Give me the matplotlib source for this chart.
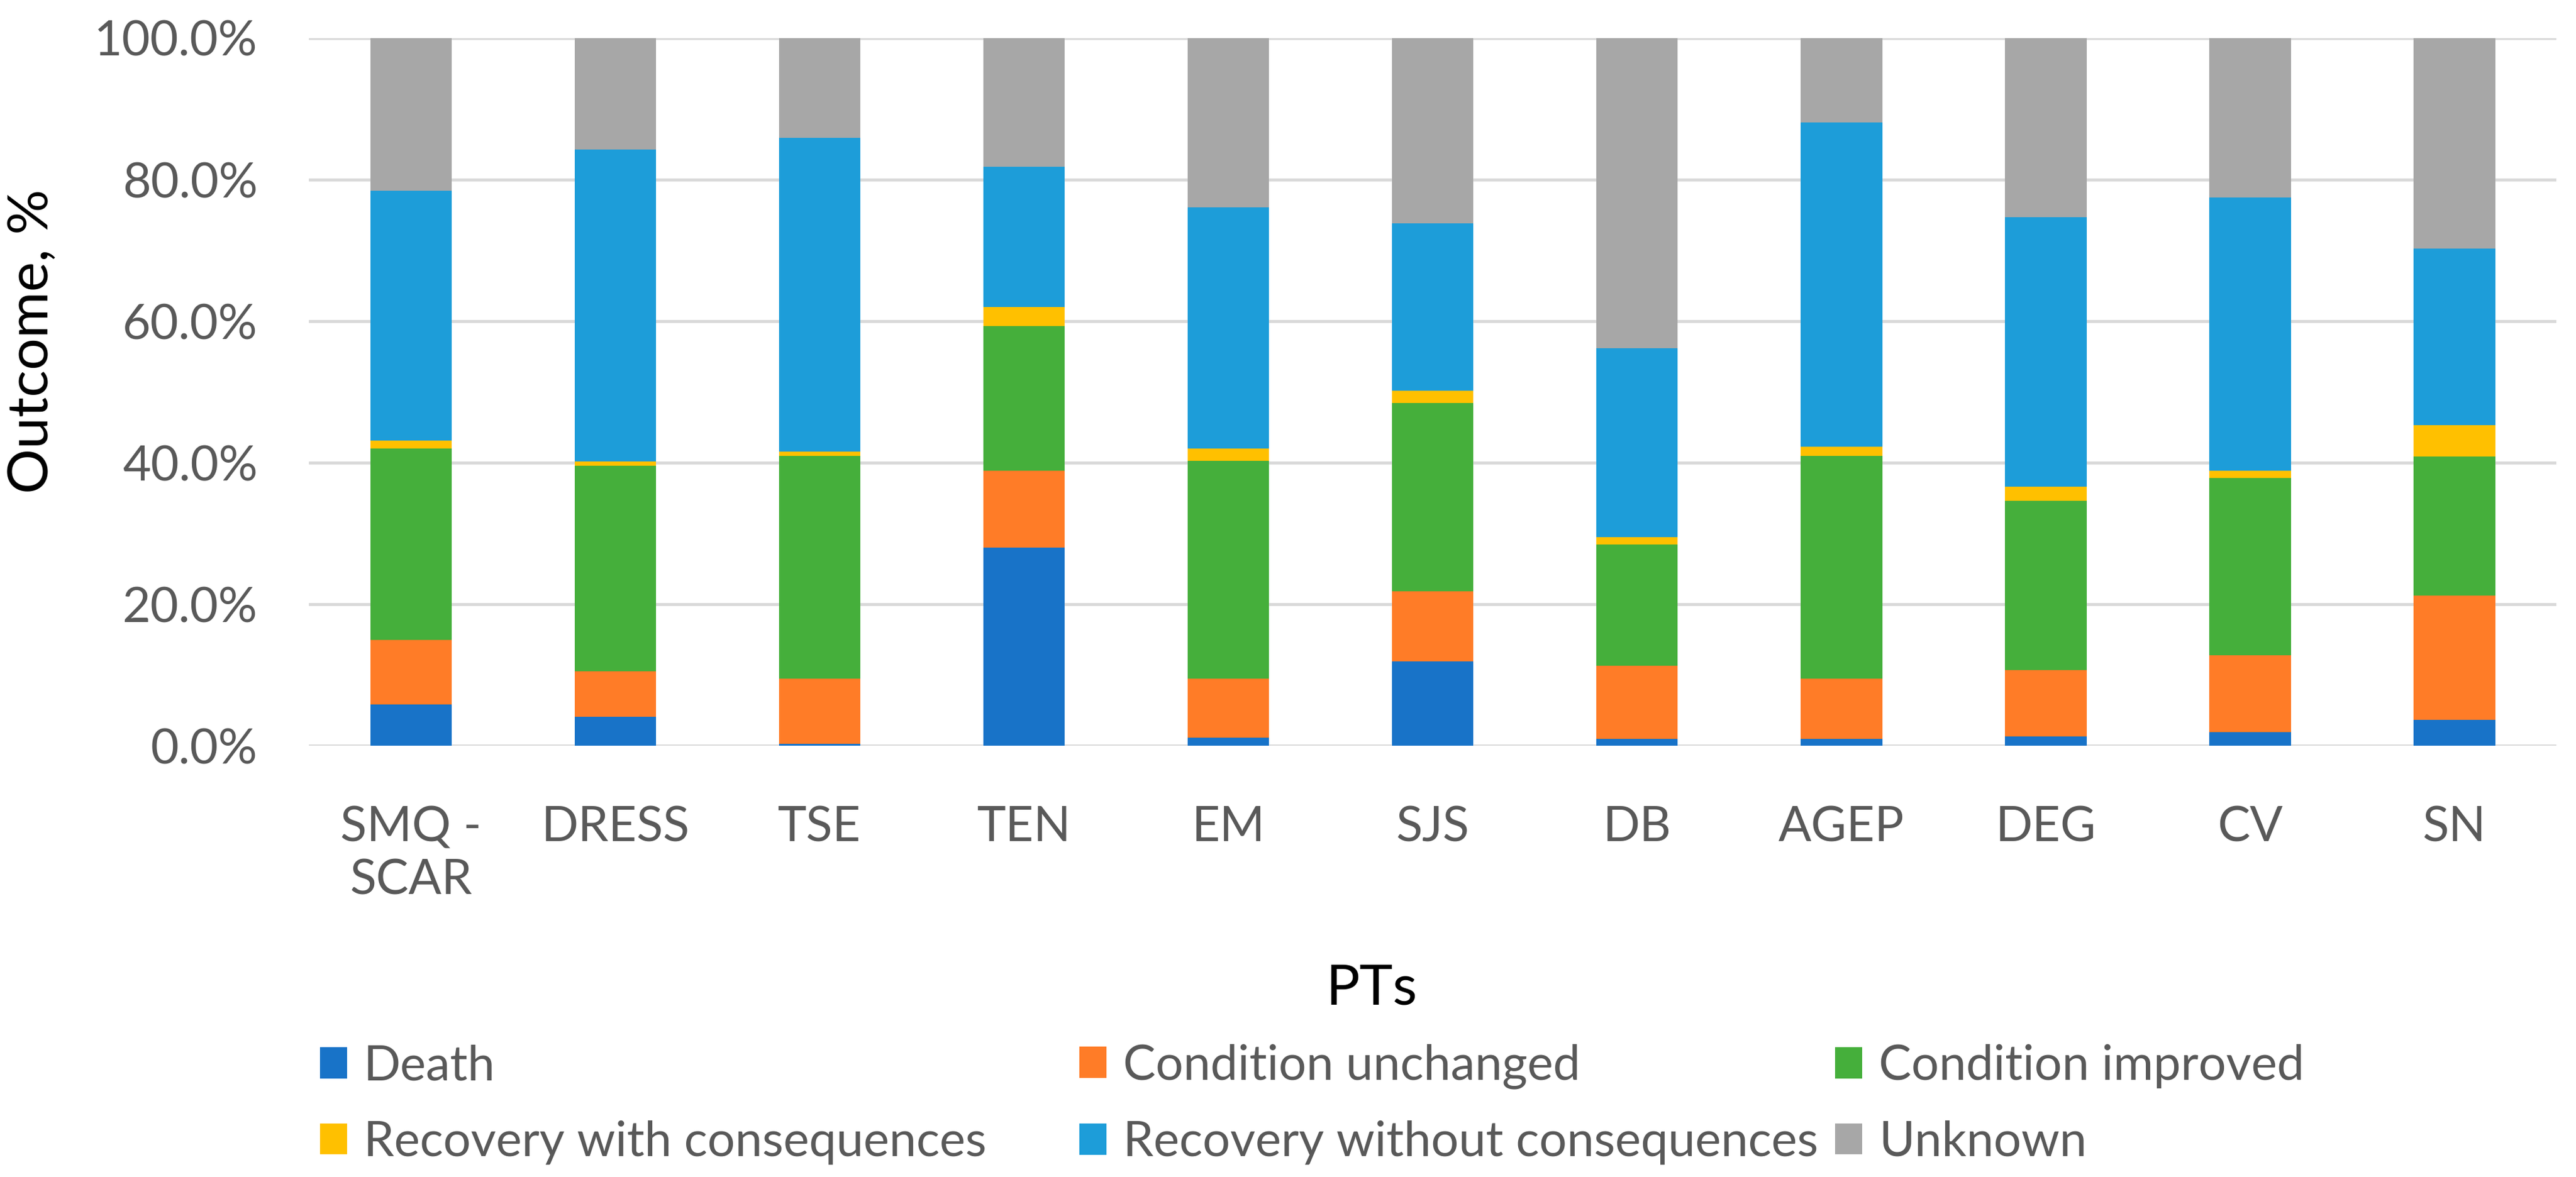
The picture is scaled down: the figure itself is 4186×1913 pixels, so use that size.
import numpy as np
import matplotlib
matplotlib.use("Agg")
import matplotlib.pyplot as plt

# values (% of reports per PT)
pts = ["SMQ -\nSCAR", "DRESS", "TSE", "TEN", "EM", "SJS", "DB", "AGEP", "DEG", "CV", "SN"]
death = [5.8, 4.1, 0.3, 28.0, 1.1, 11.9, 1.0, 1.0, 1.3, 1.9, 3.7]
unchanged = [9.2, 6.4, 9.2, 10.9, 8.4, 9.9, 10.3, 8.5, 9.4, 10.9, 17.5]
improved = [27.0, 29.1, 31.5, 20.4, 30.8, 26.6, 17.1, 31.5, 23.9, 25.0, 19.7]
rec_with = [1.1, 0.6, 0.6, 2.7, 1.7, 1.8, 1.1, 1.3, 2.0, 1.1, 4.4]
rec_without = [35.3, 44.1, 44.3, 19.8, 34.1, 23.6, 26.7, 45.8, 38.1, 38.6, 25.0]
unknown = [21.6, 15.7, 14.1, 18.2, 23.9, 26.2, 43.8, 11.9, 25.3, 22.5, 29.7]

series = [
    ("Death", death, "#1873C8"),
    ("Condition unchanged", unchanged, "#FF7C27"),
    ("Condition improved", improved, "#45AF3B"),
    ("Recovery with consequences", rec_with, "#FFC000"),
    ("Recovery without consequences", rec_without, "#1D9DD9"),
    ("Unknown", unknown, "#A7A7A7"),
]

plt.rcParams['font.family'] = ['Lato', 'DejaVu Sans']
grey = "#595959"
fs = 57

fig = plt.figure(figsize=(41.86, 19.13), dpi=100)
ax = fig.add_axes([0.1199, 0.3664, 0.8725, 0.6012])

x = np.arange(len(pts))
bottom = np.zeros(len(pts))
bars = {}
for name, vals, col in series:
    vals = np.array(vals)
    bars[name] = ax.bar(x, vals, 0.4, bottom=bottom, color=col, label=name, zorder=3)
    bottom += vals

ax.set_xlim(-0.5, len(pts) - 0.5)
ax.set_ylim(0, 100)
ax.set_yticks(np.arange(0, 101, 20))
ax.set_yticklabels([f"{v:.1f}%" for v in np.arange(0, 101, 20)])
ax.set_xticks(x)
ax.set_xticklabels(pts, linespacing=1.25)
ax.yaxis.grid(True, color="#D9D9D9", linewidth=3.5, zorder=0)
for s in ax.spines.values():
    s.set_visible(False)
ax.tick_params(axis="y", length=0, pad=60, labelsize=fs, labelcolor=grey)
ax.tick_params(axis="x", length=0, pad=70, labelsize=fs, labelcolor=grey)

fig.text(0.0125, 0.71, "Outcome, %", rotation=90, ha="center", va="center", fontsize=66)
fig.text(0.5325, 0.16, "PTs", ha="center", va="center", fontsize=66)

# legend laid out in three columns like the reference
cols = [("Death", "Recovery with consequences"),
        ("Condition unchanged", "Recovery without consequences"),
        ("Condition improved", "Unknown")]
col_x = [520, 1754, 2982]
for names, cx in zip(cols, col_x):
    leg = fig.legend([bars[n] for n in names], names, loc="center left",
                     bbox_to_anchor=(cx / 4186, 1 - 1795 / 1913), frameon=False,
                     fontsize=fs, labelcolor=grey, handlelength=0.55, handleheight=0.6,
                     handletextpad=0.35, labelspacing=0.65, borderpad=0, borderaxespad=0)

fig.savefig("out.png", dpi=100)
